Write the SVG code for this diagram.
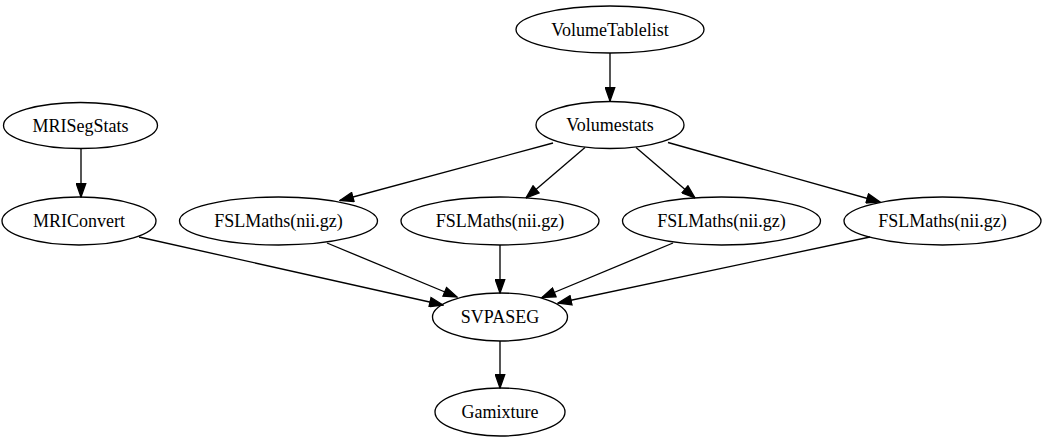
<svg xmlns="http://www.w3.org/2000/svg" width="1047" height="443" viewBox="0 0 1047 443">
<style>
.n ellipse{fill:none;stroke:#000;stroke-width:1.33}
.n text{font-family:"Liberation Serif","Times New Roman",serif;font-size:18px;text-anchor:middle;fill:#000}
.e line{stroke:#000;stroke-width:1.33;fill:none}
</style>
<defs>
<marker id="ah" markerUnits="userSpaceOnUse" markerWidth="15" markerHeight="11" refX="13.3" refY="4.7" orient="auto" viewBox="-1 -1 15 11">
<path d="M0,0 L13.3,4.7 L0,9.4 z" fill="#000" stroke="#000" stroke-width="1.33"/>
</marker>
</defs>
<rect width="1047" height="443" fill="#fff"/>
<g id="edges" class="e">
<line x1="610" y1="53" x2="610" y2="101" marker-end="url(#ah)"/>
<line x1="81" y1="148.5" x2="81" y2="197" marker-end="url(#ah)"/>
<line x1="553" y1="143" x2="340" y2="200.5" marker-end="url(#ah)"/>
<line x1="585" y1="147.5" x2="526" y2="198" marker-end="url(#ah)"/>
<line x1="636" y1="147.5" x2="695" y2="198" marker-end="url(#ah)"/>
<line x1="668" y1="142.5" x2="880" y2="202" marker-end="url(#ah)"/>
<line x1="139" y1="237" x2="443" y2="305" marker-end="url(#ah)"/>
<line x1="327" y1="243" x2="457" y2="297" marker-end="url(#ah)"/>
<line x1="500" y1="245" x2="500" y2="293" marker-end="url(#ah)"/>
<line x1="673" y1="243" x2="542" y2="297.5" marker-end="url(#ah)"/>
<line x1="870" y1="237" x2="558" y2="303" marker-end="url(#ah)"/>
<line x1="500" y1="341" x2="500" y2="388" marker-end="url(#ah)"/>
</g>
<g id="VolumeTablelist" class="n"><ellipse cx="610" cy="29.5" rx="94" ry="23.5"/><text x="610" y="35.5">VolumeTablelist</text></g>
<g id="MRISegStats" class="n"><ellipse cx="80.5" cy="125.5" rx="77" ry="23"/><text x="80.5" y="131.5">MRISegStats</text></g>
<g id="Volumestats" class="n"><ellipse cx="610" cy="125" rx="74" ry="23.5"/><text x="610" y="131">Volumestats</text></g>
<g id="MRIConvert" class="n"><ellipse cx="79" cy="221" rx="77" ry="24"/><text x="79" y="227">MRIConvert</text></g>
<g id="FSLMaths1" class="n"><ellipse cx="278.5" cy="221" rx="99" ry="24"/><text x="278.5" y="227">FSLMaths(nii.gz)</text></g>
<g id="FSLMaths2" class="n"><ellipse cx="500" cy="221" rx="99" ry="24"/><text x="500" y="227">FSLMaths(nii.gz)</text></g>
<g id="FSLMaths3" class="n"><ellipse cx="721.5" cy="221" rx="99" ry="24"/><text x="721.5" y="227">FSLMaths(nii.gz)</text></g>
<g id="FSLMaths4" class="n"><ellipse cx="942.5" cy="221" rx="98.5" ry="24"/><text x="942.5" y="227">FSLMaths(nii.gz)</text></g>
<g id="SVPASEG" class="n"><ellipse cx="500" cy="317" rx="67.5" ry="24"/><text x="500" y="323">SVPASEG</text></g>
<g id="Gamixture" class="n"><ellipse cx="500" cy="412" rx="65" ry="24"/><text x="500" y="418">Gamixture</text></g>
</svg>
